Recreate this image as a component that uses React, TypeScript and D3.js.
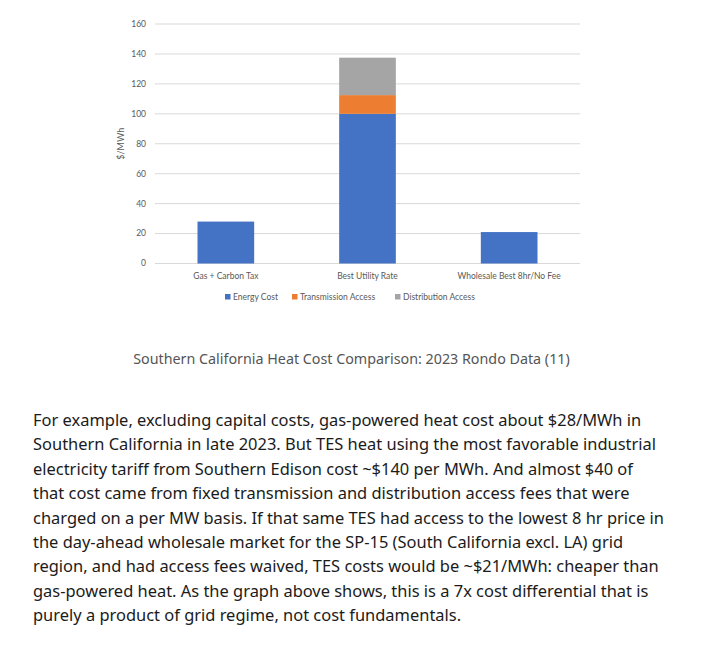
import * as d3 from "d3";

const categories = ["Gas + Carbon Tax", "Best Utility Rate", "Wholesale Best 8hr/No Fee"];
const energyCost = [28, 100, 21];
const transmissionAccess = [0, 12.5, 0];
const distributionAccess = [0, 25, 0];
const yTicks = [0, 20, 40, 60, 80, 100, 120, 140, 160];

const seriesNames = ["Energy Cost", "Transmission Access", "Distribution Access"];
const seriesColors = ["#4472C4", "#ED7D31", "#A5A5A5"];

const caption = "Southern California Heat Cost Comparison: 2023 Rondo Data (11)";
const bodyLines = [
  "For example, excluding capital costs, gas-powered heat cost about $28/MWh in",
  "Southern California in late 2023. But TES heat using the most favorable industrial",
  "electricity tariff from Southern Edison cost ~$140 per MWh. And almost $40 of",
  "that cost came from fixed transmission and distribution access fees that were",
  "charged on a per MW basis. If that same TES had access to the lowest 8 hr price in",
  "the day-ahead wholesale market for the SP-15 (South California excl. LA) grid",
  "region, and had access fees waived, TES costs would be ~$21/MWh: cheaper than",
  "gas-powered heat. As the graph above shows, this is a 7x cost differential that is",
  "purely a product of grid regime, not cost fundamentals.",
];

const W = 711;
const H = 655;
const plot = { left: 155, right: 580, top: 24, bottom: 263.5 };
const chartFont = "Lato, 'Liberation Sans', sans-serif";
const textFont = "'Noto Sans', 'Open Sans', sans-serif";

export default function App() {
  const x = d3
    .scaleBand<string>()
    .domain(categories)
    .range([plot.left, plot.right])
    .paddingInner(0.6)
    .paddingOuter(0.3);
  const y = d3.scaleLinear().domain([0, 160]).range([plot.bottom, plot.top]);

  const rows = categories.map((c, i) => ({
    cat: c,
    energy: energyCost[i],
    transmission: transmissionAccess[i],
    distribution: distributionAccess[i],
  }));
  const stack = d3
    .stack<(typeof rows)[number]>()
    .keys(["energy", "transmission", "distribution"]);
  const layers = stack(rows);

  // legend placement (square x positions)
  const legendX = [225, 292, 395];

  return (
    <div style={{ position: "absolute", left: 0, top: 0 }}>
      <svg width={W} height={H} style={{ display: "block", background: "#fff" }}>
        {/* gridlines */}
        {yTicks.map((t) => (
          <line
            key={t}
            x1={plot.left}
            x2={plot.right}
            y1={y(t)}
            y2={y(t)}
            stroke="#D9D9D9"
            strokeWidth={1}
          />
        ))}
        {/* y tick labels */}
        {yTicks.map((t) => (
          <text
            key={"l" + t}
            x={146}
            y={y(t)}
            dy="0.34em"
            textAnchor="end"
            fontFamily={chartFont}
            fontSize={8.5}
            fill="#595959"
          >
            {t}
          </text>
        ))}
        <text
          transform={`translate(124,${(plot.top + plot.bottom) / 2}) rotate(-90)`}
          textAnchor="middle"
          fontFamily={chartFont}
          fontSize={9}
          fill="#595959"
        >
          $/MWh
        </text>
        {/* bars */}
        {layers.map((layer, li) => (
          <g key={layer.key} fill={seriesColors[li]}>
            {layer.map((d, i) =>
              d[1] - d[0] > 0 ? (
                <rect
                  key={i}
                  x={x(d.data.cat)}
                  width={x.bandwidth()}
                  y={y(d[1])}
                  height={y(d[0]) - y(d[1])}
                />
              ) : null
            )}
          </g>
        ))}
        {/* x labels */}
        {categories.map((c) => (
          <text
            key={c}
            x={(x(c) ?? 0) + x.bandwidth() / 2}
            y={278.5}
            textAnchor="middle"
            fontFamily={chartFont}
            fontSize={8.5}
            fill="#595959"
          >
            {c}
          </text>
        ))}
        {/* legend */}
        {seriesNames.map((s, i) => (
          <g key={s} transform={`translate(${legendX[i]},294)`}>
            <rect width={5.5} height={5.5} fill={seriesColors[i]} />
            <text
              x={8}
              y={5.5}
              fontFamily={chartFont}
              fontSize={8.5}
              fill="#595959"
            >
              {s}
            </text>
          </g>
        ))}
        {/* caption */}
        <text
          x={351.5}
          y={364}
          textAnchor="middle"
          fontFamily={textFont}
          fontSize={14.3}
          fill="#555555"
        >
          {caption}
        </text>
        {/* body */}
        {bodyLines.map((line, i) => (
          <text
            key={i}
            x={33}
            y={426 + i * 24.4}
            fontFamily={textFont}
            fontSize={16.45}
            fill="#1b1b1b"
          >
            {line}
          </text>
        ))}
      </svg>
    </div>
  );
}
